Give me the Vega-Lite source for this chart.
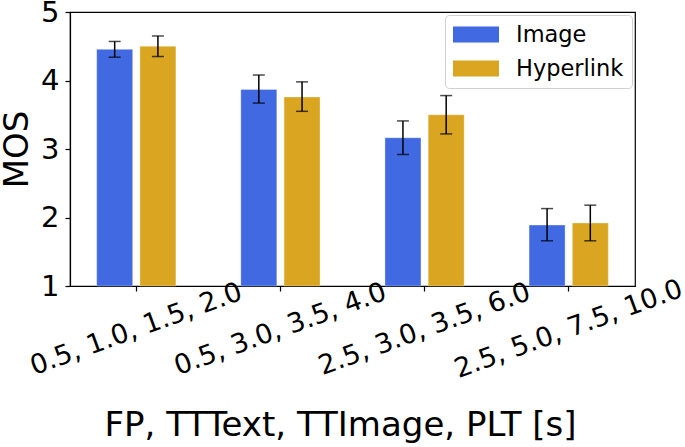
{
  "$schema": "https://vega.github.io/schema/vega-lite/v6.json",
  "width": 565,
  "height": 274,
  "autosize": {"type": "none"},
  "padding": {"left": 70, "top": 12, "right": 50, "bottom": 161},
  "config": {
    "font": "DejaVu Sans",
    "view": {"stroke": "#000000", "strokeWidth": 1.2},
    "axis": {"domainColor": "#000000", "tickColor": "#000000", "labelColor": "#000000", "titleColor": "#000000", "grid": false, "tickSize": 5, "tickWidth": 1.2, "domainWidth": 1.2, "titleFontWeight": "normal", "labelLimit": 0}
  },
  "data": {"values": [
    {"group": "0.5, 1.0, 1.5, 2.0", "series": "Image", "mos": 4.455, "lo": 4.34, "hi": 4.57},
    {"group": "0.5, 1.0, 1.5, 2.0", "series": "Hyperlink", "mos": 4.50, "lo": 4.35, "hi": 4.65},
    {"group": "0.5, 3.0, 3.5, 4.0", "series": "Image", "mos": 3.87, "lo": 3.67, "hi": 4.08},
    {"group": "0.5, 3.0, 3.5, 4.0", "series": "Hyperlink", "mos": 3.76, "lo": 3.55, "hi": 3.98},
    {"group": "2.5, 3.0, 3.5, 6.0", "series": "Image", "mos": 3.165, "lo": 2.92, "hi": 3.41},
    {"group": "2.5, 3.0, 3.5, 6.0", "series": "Hyperlink", "mos": 3.50, "lo": 3.22, "hi": 3.78},
    {"group": "2.5, 5.0, 7.5, 10.0", "series": "Image", "mos": 1.89, "lo": 1.66, "hi": 2.13},
    {"group": "2.5, 5.0, 7.5, 10.0", "series": "Hyperlink", "mos": 1.92, "lo": 1.66, "hi": 2.18}
  ]},
  "encoding": {
    "x": {
      "field": "group", "type": "nominal", "sort": null,
      "scale": {"paddingInner": 0.08, "paddingOuter": 0},
      "axis": {"title": "FP, TTText, TTImage, PLT [s]", "titleFontSize": 34, "titleX": 270, "titleY": 149, "titleBaseline": "alphabetic", "titleAlign": "center", "titleAnchor": "start",
        "labelAngle": -20, "labelAlign": "center", "labelBaseline": "middle", "labelPadding": 38, "labelFontSize": 27, "labelOverlap": false, "labelBound": false, "labelFlush": false}
    },
    "xOffset": {"field": "series", "type": "nominal", "sort": ["Image", "Hyperlink"], "scale": {"domain": ["Image", "Hyperlink"], "paddingInner": 0.1667, "paddingOuter": 0.617}}
  },
  "layer": [
    {
      "mark": {"type": "bar", "stroke": "#ffffff", "strokeWidth": 1, "strokeOpacity": 0.35},
      "encoding": {
        "y": {"field": "mos", "type": "quantitative", "scale": {"domain": [1, 5], "nice": false, "zero": false},
          "axis": {"title": "MOS", "titleFontSize": 34, "titleX": -43, "titleY": 137, "titleBaseline": "alphabetic", "titleAngle": -90, "titleAlign": "center", "titleAnchor": "start", "values": [1, 2, 3, 4, 5], "format": "d", "labelFontSize": 29, "labelPadding": 6}},
        "y2": {"datum": 1},
        "color": {"field": "series", "type": "nominal", "sort": ["Image", "Hyperlink"],
          "scale": {"domain": ["Image", "Hyperlink"], "range": ["#4169E1", "#DAA520"]},
          "legend": {"title": null, "orient": "top-right", "offset": 3, "padding": 8, "strokeColor": "#d0d0d0", "fillColor": "rgba(255,255,255,0.8)", "cornerRadius": 4,
            "symbolType": "M-1,-0.7H3V0.7H-1Z", "symbolSize": 529, "symbolStrokeWidth": 0, "symbolOpacity": 1,
            "labelFontSize": 22.5, "labelColor": "#000000", "labelOffset": 40, "rowPadding": 11}}
      }
    },
    {
      "mark": {"type": "rule", "color": "#000000", "strokeWidth": 1.5},
      "encoding": {"y": {"field": "lo", "type": "quantitative"}, "y2": {"field": "hi"}}
    },
    {
      "mark": {"type": "tick", "color": "#000000", "size": 12, "thickness": 1.5, "orient": "horizontal"},
      "encoding": {"y": {"field": "lo", "type": "quantitative"}}
    },
    {
      "mark": {"type": "tick", "color": "#000000", "size": 12, "thickness": 1.5, "orient": "horizontal"},
      "encoding": {"y": {"field": "hi", "type": "quantitative"}}
    }
  ]
}
